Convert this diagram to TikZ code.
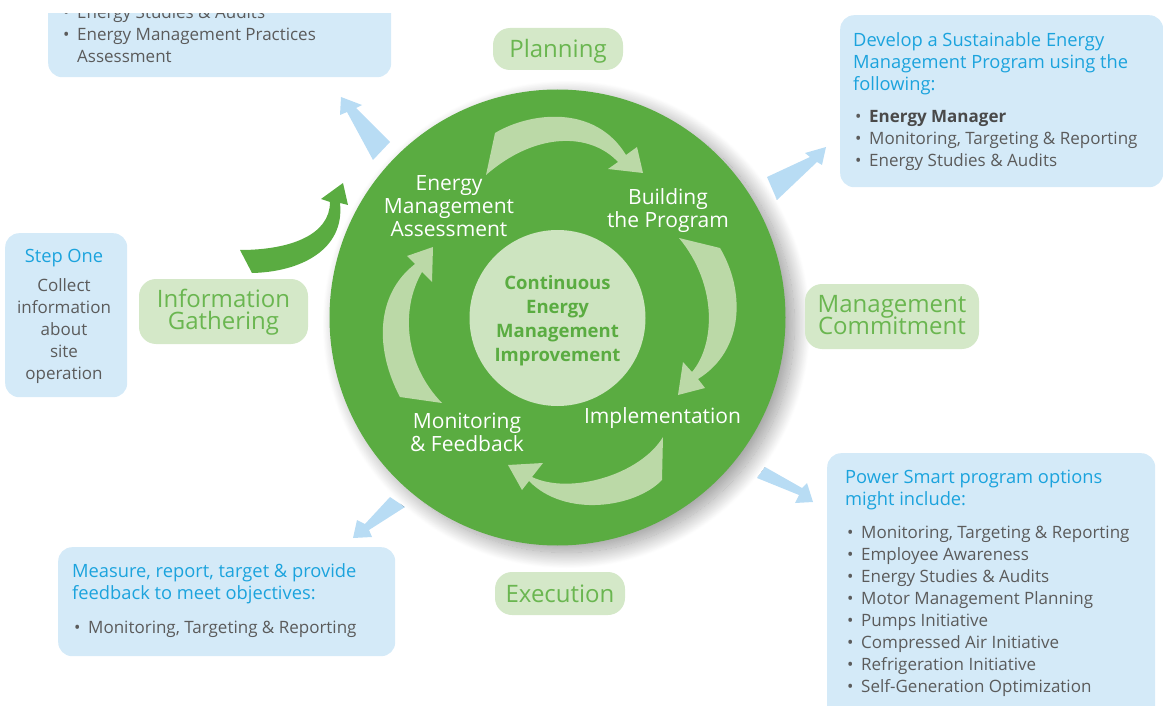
\documentclass[tikz,border=0pt]{standalone}
\usepackage{fontspec}
\setmainfont{Open Sans}
\usetikzlibrary{shadows.blur}
\definecolor{cgreen}{HTML}{5AAC41}
\definecolor{cinner}{HTML}{CDE4C0}
\definecolor{carrow}{HTML}{BBD9A7}
\definecolor{cpill}{HTML}{D4E8C8}
\definecolor{cpilltext}{HTML}{6AB650}
\definecolor{cbox}{HTML}{D4EAF8}
\definecolor{cbarrow}{HTML}{B8DCF4}
\definecolor{cblue}{HTML}{1BA3DD}
\definecolor{cgray}{HTML}{5B5B5B}
\definecolor{cdark}{HTML}{4A4A4A}
\newcommand\st{\rule{0pt}{30pt}}
\newcommand\bul{\hspace*{2pt}\makebox[14pt][l]{\textbullet}}
\newcommand\fsz[2]{\fontsize{#1}{#2}\selectfont\lineskiplimit=-1000pt\relax}
\newcommand\hb[1]{{\fontsize{18.3}{22}\selectfont\color{cblue}#1}}
\begin{document}
\begin{tikzpicture}[x=1pt,y=-1pt,
  bx/.style={fill=cbox, rounded corners=14pt, inner sep=0, anchor=north west},
  pill/.style={fill=cpill, rounded corners=17pt, inner sep=0},
  pilltxt/.style={inner sep=0, anchor=north, align=center, text=cpilltext, font=\fsz{24}{22}},
  bodytxt/.style={inner sep=0, anchor=north west, align=left, text=cgray, font=\fsz{17}{22}},
  lbl/.style={inner sep=0, anchor=north, align=center, text=white, font=\fsz{21}{23}},
  la/.style={fill=carrow},
  ba/.style={fill=cbarrow},
]
\useasboundingbox (0,0) rectangle (1163,706);
\clip (0,0) rectangle (1163,706);

% ---- blue boxes ----
\begin{scope}
  \clip (0,14) rectangle (1163,706);
  \node[bx, minimum width=343, minimum height=107] (tl) at (48,-30) {};
  \node[bodytxt] (tltxt) at (61,-12) {\st\bul Energy Studies \& Audits\\
    \bul Energy Management Practices\\ \hspace*{16pt}Assessment};
\end{scope}
\node[bx, minimum width=323, minimum height=172] (tr) at (840,15) {};
\node[bodytxt] (trtxt) at (853,16) {\st\hb{Develop a Sustainable Energy}\\
  \hb{Management Program using the}\\ \hb{following:}\\[10pt]
  \bul\textcolor{cdark}{\textbf{Energy Manager}}\\
  \bul Monitoring, Targeting \& Reporting\\
  \bul Energy Studies \& Audits};
\node[bx, minimum width=122, minimum height=164] (step) at (5,233) {};
\node[bodytxt, anchor=north, align=center] (steptxt) at (64,232) {\st\hb{Step One}\\[7pt]
  Collect\\information\\about\\site\\operation};
\node[bx, minimum width=337, minimum height=109] (bl) at (58,547) {};
\node[bodytxt] (bltxt) at (72,547) {\st\hb{Measure, report, target \& provide}\\
  \hb{feedback to meet objectives:}\\[12pt]
  \bul Monitoring, Targeting \& Reporting};
\node[bx, minimum width=328, minimum height=280] (br) at (827,453) {};
\node[bodytxt] (brtxt) at (845,453) {\st\hb{Power Smart program options}\\
  \hb{might include:}\\[11pt]
  \bul Monitoring, Targeting \& Reporting\\
  \bul Employee Awareness\\
  \bul Energy Studies \& Audits\\
  \bul Motor Management Planning\\
  \bul Pumps Initiative\\
  \bul Compressed Air Initiative\\
  \bul Refrigeration Initiative\\
  \bul Self-Generation Optimization};

% ---- blue arrows ----
\fill[ba] (373,160) -- (347,112) -- (340,115) -- (341,97) -- (362,105) -- (356,108) -- (390,142) -- cycle;
\fill[ba] (767,177) -- (810,157) -- (805,153) -- (826,147) -- (822,165) -- (817,162) -- (777,200) -- cycle;
\fill[ba] (765,467) -- (802,488) -- (807,483) -- (813,502) -- (795,503) -- (799,495) -- (757,478) -- cycle;
\fill[ba] (390,497) -- (365,524) -- (357,520) -- (353,538) -- (372,537) -- (369,530) -- (405,507) -- cycle;

% ---- main circle ----
\node[circle, fill=cgreen, minimum size=456pt, inner sep=0,
  blur shadow={shadow xshift=9pt, shadow yshift=-7pt, shadow blur radius=16pt, shadow blur steps=30, shadow opacity=40}] (main) at (557.5,317.5) {};
\node[circle, fill=cinner, minimum size=176pt, inner sep=0] (inner) at (557.5,318) {};

% ---- light cycle arrows ----
\fill[la] (486,175) -- (495,133) .. controls (530,112) and (595,104) .. (626,155)
  -- (637,147) -- (643,173) -- (608,169) -- (618,162) .. controls (590,132) and (535,132) .. cycle;
\fill[la] (679,238) -- (720,248) .. controls (745,290) and (745,350) .. (698,379)
  -- (705,388) -- (678,395) -- (683,362) -- (692,372) .. controls (715,345) and (718,285) .. cycle;
\fill[la] (663,437) -- (662,480) .. controls (635,508) and (565,518) .. (529,481)
  -- (522,490) -- (508,465) -- (543,463) -- (532,477) .. controls (570,495) and (640,475) .. cycle;
\fill[la] (442,403) -- (400,397) .. controls (375,350) and (375,295) .. (415,264)
  -- (407,256) -- (433,247) -- (432,282) -- (422,272) .. controls (400,310) and (405,365) .. cycle;

% ---- circle texts ----
\node[lbl] (ema) at (449,160) {\st Energy\\Management\\Assessment};
\node[lbl] (btp) at (668,174) {\st Building\\the Program};
\node[lbl] (imp) at (662.5,393) {\st Implementation};
\node[lbl] (mfb) at (467,398) {\st Monitoring\\\& Feedback};
\node[inner sep=0, anchor=north, align=center, text=cgreen, font=\fsz{18.5}{24}\bfseries] (cemi) at (557.5,259)
  {\st Continuous\\Energy\\Management\\Improvement};

% ---- pills ----
\node[pill, minimum width=169, minimum height=65] (info) at (223.5,311.5) {};
\node[pilltxt] (infotxt) at (223.5,277) {\st Information\\Gathering};
\node[pill, minimum width=130, minimum height=42] (plan) at (558,49) {};
\node[pilltxt] (plantxt) at (558,27) {\st Planning};
\node[pill, minimum width=174, minimum height=65] (mgmt) at (892,316.5) {};
\node[pilltxt] (mgmttxt) at (892,282) {\st Management\\Commitment};
\node[pill, minimum width=130, minimum height=43] (exec) at (560,593.5) {};
\node[pilltxt] (exectxt) at (560,572) {\st Execution};

% ---- green arrow ----
\fill[cgreen] (240,250) -- (252,273) .. controls (300,272) and (345,250) .. (340,203)
  -- (348,205) -- (343,183) -- (321,199) -- (330,202) .. controls (330,235) and (290,250) .. cycle;
\end{tikzpicture}
\end{document}
